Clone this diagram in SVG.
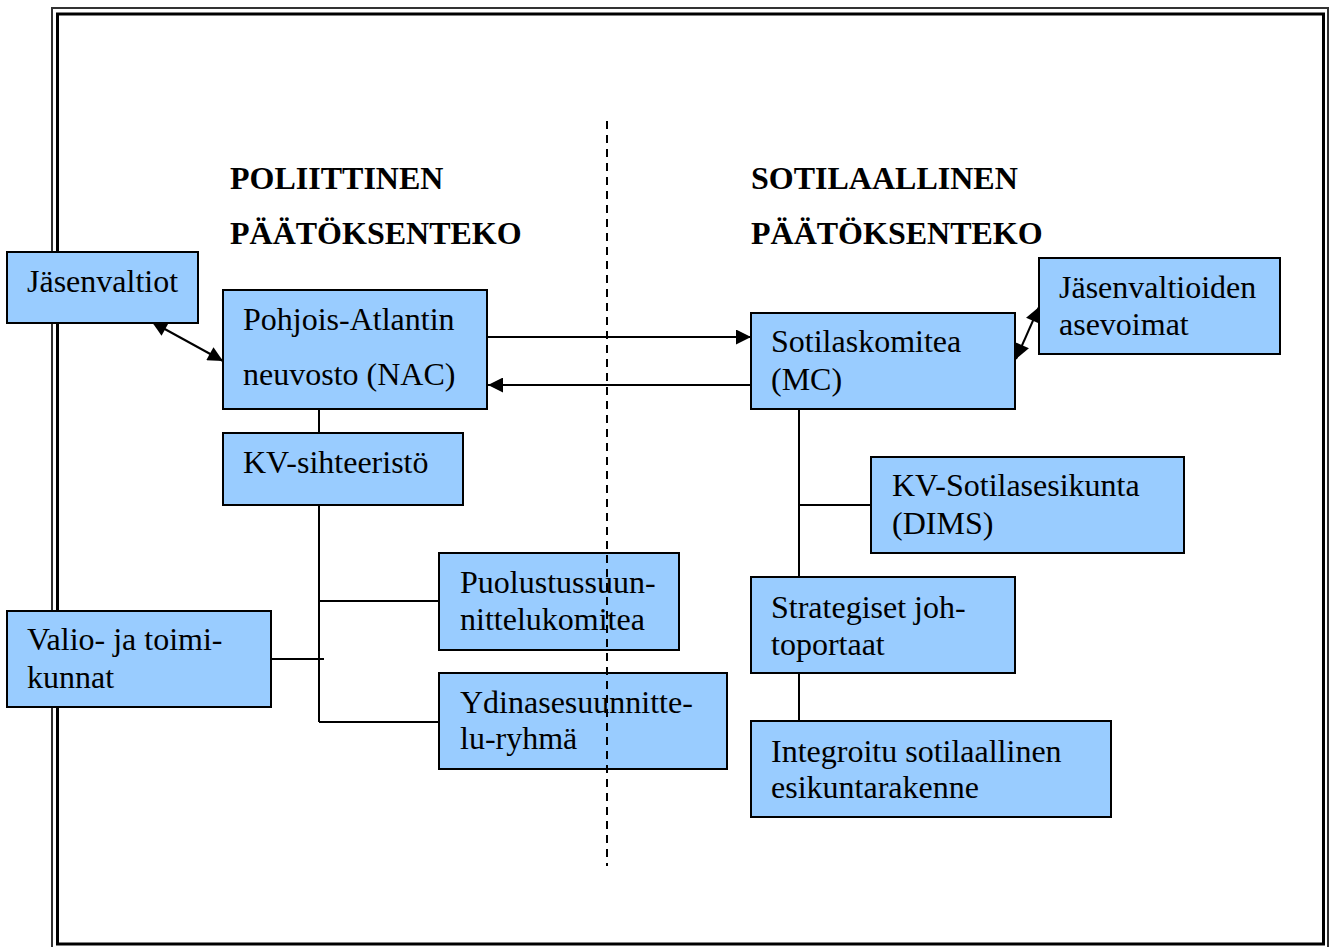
<svg xmlns="http://www.w3.org/2000/svg" width="1330" height="947" viewBox="0 0 1330 947">
<style>
.box{fill:#99CCFF;stroke:#000;stroke-width:2}
.t{font-family:"Liberation Serif","Times New Roman",serif;font-size:32px;fill:#000}
.h{font-family:"Liberation Serif","Times New Roman",serif;font-size:32px;font-weight:bold;fill:#000}
.c{stroke:#000;stroke-width:2;fill:none}
</style>
<defs>
<marker id="ah" viewBox="0 0 10 10" refX="10" refY="5" markerWidth="17" markerHeight="15" markerUnits="userSpaceOnUse" orient="auto-start-reverse">
<path d="M0,0 L10,5 L0,10 z" fill="#000"/>
</marker>
</defs>
<rect width="1330" height="947" fill="#fff"/>
<g id="frame">
<rect x="52" y="8" width="1276" height="945" fill="none" stroke="#333" stroke-width="2"/>
<rect x="57.5" y="14" width="1266" height="930" fill="none" stroke="#000" stroke-width="3"/>
</g>
<g id="headers">
<text class="h" x="230" y="189">POLIITTINEN</text>
<text class="h" x="230" y="244">PÄÄTÖKSENTEKO</text>
<text class="h" x="751" y="189">SOTILAALLINEN</text>
<text class="h" x="751" y="244">PÄÄTÖKSENTEKO</text>
</g>
<g id="connectors">
<line class="c" x1="319" y1="409" x2="319" y2="433"/>
<line class="c" x1="319" y1="505" x2="319" y2="722"/>
<line class="c" x1="319" y1="601" x2="439" y2="601"/>
<line class="c" x1="319" y1="722" x2="439" y2="722"/>
<line class="c" x1="271" y1="659" x2="324" y2="659"/>
<line class="c" x1="799" y1="409" x2="799" y2="577"/>
<line class="c" x1="799" y1="505" x2="871" y2="505"/>
<line class="c" x1="799" y1="673" x2="799" y2="721"/>
<line class="c" x1="487" y1="337" x2="751" y2="337" marker-end="url(#ah)"/>
<line class="c" x1="751" y1="385" x2="488" y2="385" marker-end="url(#ah)"/>
<line class="c" x1="152" y1="322" x2="223" y2="361" marker-start="url(#ah)" marker-end="url(#ah)"/>
<line class="c" x1="1016" y1="359" x2="1039" y2="307" marker-start="url(#ah)" marker-end="url(#ah)"/>
</g>
<g id="jasenvaltiot">
<rect class="box" x="7" y="252" width="191" height="71"/>
<text class="t" x="27" y="292">Jäsenvaltiot</text>
</g>
<g id="nac">
<rect class="box" x="223" y="290" width="264" height="119"/>
<text class="t" x="243" y="330">Pohjois-Atlantin</text>
<text class="t" x="243" y="385">neuvosto (NAC)</text>
</g>
<g id="kvsihteeristo">
<rect class="box" x="223" y="433" width="240" height="72"/>
<text class="t" x="243" y="473">KV-sihteeristö</text>
</g>
<g id="puolustus">
<rect class="box" x="439" y="553" width="240" height="97"/>
<text class="t" x="460" y="593">Puolustussuun-</text>
<text class="t" x="460" y="630">nittelukomitea</text>
</g>
<g id="valio">
<rect class="box" x="7" y="611" width="264" height="96"/>
<text class="t" x="27" y="650">Valio- ja toimi-</text>
<text class="t" x="27" y="688">kunnat</text>
</g>
<g id="ydinase">
<rect class="box" x="439" y="673" width="288" height="96"/>
<text class="t" x="460" y="713">Ydinasesuunnitte-</text>
<text class="t" x="460" y="749">lu-ryhmä</text>
</g>
<g id="mc">
<rect class="box" x="751" y="313" width="264" height="96"/>
<text class="t" x="771" y="352">Sotilaskomitea</text>
<text class="t" x="771" y="390">(MC)</text>
</g>
<g id="asevoimat">
<rect class="box" x="1039" y="258" width="241" height="96"/>
<text class="t" x="1059" y="298">Jäsenvaltioiden</text>
<text class="t" x="1059" y="335">asevoimat</text>
</g>
<g id="dims">
<rect class="box" x="871" y="457" width="313" height="96"/>
<text class="t" x="892" y="496">KV-Sotilasesikunta</text>
<text class="t" x="892" y="534">(DIMS)</text>
</g>
<g id="strategiset">
<rect class="box" x="751" y="577" width="264" height="96"/>
<text class="t" x="771" y="618">Strategiset joh-</text>
<text class="t" x="771" y="655">toportaat</text>
</g>
<g id="integroitu">
<rect class="box" x="751" y="721" width="360" height="96"/>
<text class="t" x="771" y="762">Integroitu sotilaallinen</text>
<text class="t" x="771" y="798">esikuntarakenne</text>
</g>
<g id="divider">
<line x1="607" y1="121" x2="607" y2="866" stroke="#000" stroke-width="2" stroke-dasharray="8,6"/>
</g>
</svg>
